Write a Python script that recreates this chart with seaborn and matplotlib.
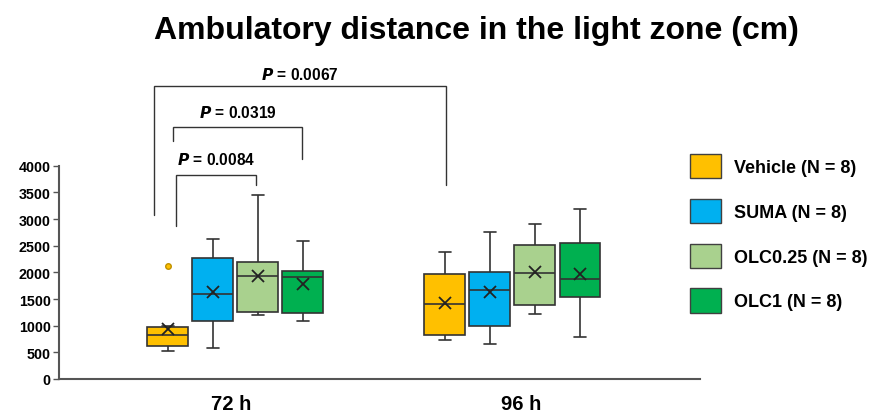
import numpy as np
import pandas as pd
import matplotlib
matplotlib.use("Agg")
import matplotlib.pyplot as plt
import matplotlib.patches as mpatches
import seaborn as sns

# ---------------- data ----------------
times = ["72 h", "96 h"]
groups = ["Vehicle (N = 8)", "SUMA (N = 8)", "OLC0.25 (N = 8)", "OLC1 (N = 8)"]
colors = ["#FFC000", "#00B0F0", "#A9D18E", "#00B050"]

vehicle_72 = [525, 619, 619, 780, 870, 975, 1000, 2113]
suma_72 = [581, 1081, 1081, 1450, 1726, 2269, 2269, 2631]
olc025_72 = [1206, 1263, 1263, 1850, 2000, 2200, 2200, 3456]
olc1_72 = [1081, 1244, 1244, 1882, 1930, 1937, 2288, 2594]

vehicle_96 = [738, 738, 854, 1350, 1462, 1963, 1963, 2388]
suma_96 = [663, 988, 988, 1626, 1700, 1872, 2407, 2756]
olc025_96 = [1225, 1388, 1388, 1940, 2036, 2457, 2653, 2913]
olc1_96 = [781, 1364, 1587, 1800, 1938, 2544, 2544, 3194]

y_ticks = [0, 500, 1000, 1500, 2000, 2500, 3000, 3500, 4000]

# significance brackets: label, x_left, x_right, y_top, y_left_end, y_right_end, y_text
brackets = [
    ("0.0084", -0.216, 0.074, 3825, 2869, 3638, 4125),
    ("0.0319", -0.2245, 0.241, 4719, 4468, 4125, 5006),
    ("0.0067", -0.294, 0.759, 5488, 3075, 3643, 5719),
]

series = {
    ("72 h", groups[0]): vehicle_72,
    ("72 h", groups[1]): suma_72,
    ("72 h", groups[2]): olc025_72,
    ("72 h", groups[3]): olc1_72,
    ("96 h", groups[0]): vehicle_96,
    ("96 h", groups[1]): suma_96,
    ("96 h", groups[2]): olc025_96,
    ("96 h", groups[3]): olc1_96,
}
rows = []
for (t, g), vals in series.items():
    for v in vals:
        rows.append({"time": t, "group": g, "value": v})
df = pd.DataFrame(rows)

# ---------------- style ----------------
sns.set_style("white")
plt.rcParams["font.family"] = ["Liberation Sans", "DejaVu Sans"]
plt.rcParams["font.weight"] = "bold"
plt.rcParams["text.color"] = "black"
plt.rcParams["xtick.color"] = "black"
plt.rcParams["ytick.color"] = "black"

W, H = 873, 414
fig = plt.figure(figsize=(W / 100, H / 100), dpi=100)
ax = fig.add_axes([59 / W, (H - 380) / H, (700 - 59) / W, (380 - 166.7) / H])

line_col = "#333333"
sns.boxplot(
    data=df, x="time", y="value", hue="group",
    order=times, hue_order=groups, palette=colors, saturation=1,
    width=0.65, gap=0.09, dodge=True, linecolor=line_col, linewidth=1.2,
    showmeans=True,
    meanprops=dict(marker="x", markeredgecolor="#222222", markersize=8, markeredgewidth=1.3),
    flierprops=dict(marker="o", markersize=4, markerfacecolor="#FFC000",
                    markeredgecolor="#BF9000"),
    capwidths=0.042,
    legend=False, ax=ax,
)

ax.set_xlim(-0.637, 1.677)
ax.set_ylim(0, 4000)
ax.set_yticks(y_ticks)
ax.set_yticklabels([str(v) for v in y_ticks], fontsize=10.3, fontweight="bold")
ax.set_xticks([-0.014, 1.033])
ax.set_xticklabels(times, fontsize=14.5, fontweight="bold")
ax.set_xlabel("")
ax.set_ylabel("")
ax.tick_params(axis="x", length=0, pad=11)
ax.tick_params(axis="y", length=4, width=1, color="#555555", pad=2, left=True)
for s in ["top", "right"]:
    ax.spines[s].set_visible(False)
for s in ["left", "bottom"]:
    ax.spines[s].set_color("#555555")
    ax.spines[s].set_linewidth(1.5)

# brackets
for lab, xl, xr, yt, yl, yr, ytx in brackets:
    ax.plot([xl, xl, xr, xr], [yl, yt, yt, yr], color="#333333", lw=1.0,
            clip_on=False, solid_joinstyle="miter")
    ax.text((xl + xr) / 2, ytx, r"$\bfit{P}$" + " = " + lab, ha="center", va="center",
            fontsize=11.2, fontweight="bold", clip_on=False)

# title
fig.text(476 / W, 1 - 31 / H, "Ambulatory distance in the light zone (cm)",
         ha="center", va="center", fontsize=23, fontweight="bold")

# legend
handles = [mpatches.Patch(facecolor=c, edgecolor="#404040", linewidth=1.0, label=g)
           for c, g in zip(colors, groups)]
fig.legend(handles=handles, loc="upper left", bbox_to_anchor=(690 / W, 1 - 155 / H),
           frameon=False, prop={"weight": "bold", "size": 13},
           handlelength=1.7, handleheight=1.7, handletextpad=0.75,
           labelspacing=1.13, borderpad=0, borderaxespad=0)

fig.savefig("out.png", dpi=100)
